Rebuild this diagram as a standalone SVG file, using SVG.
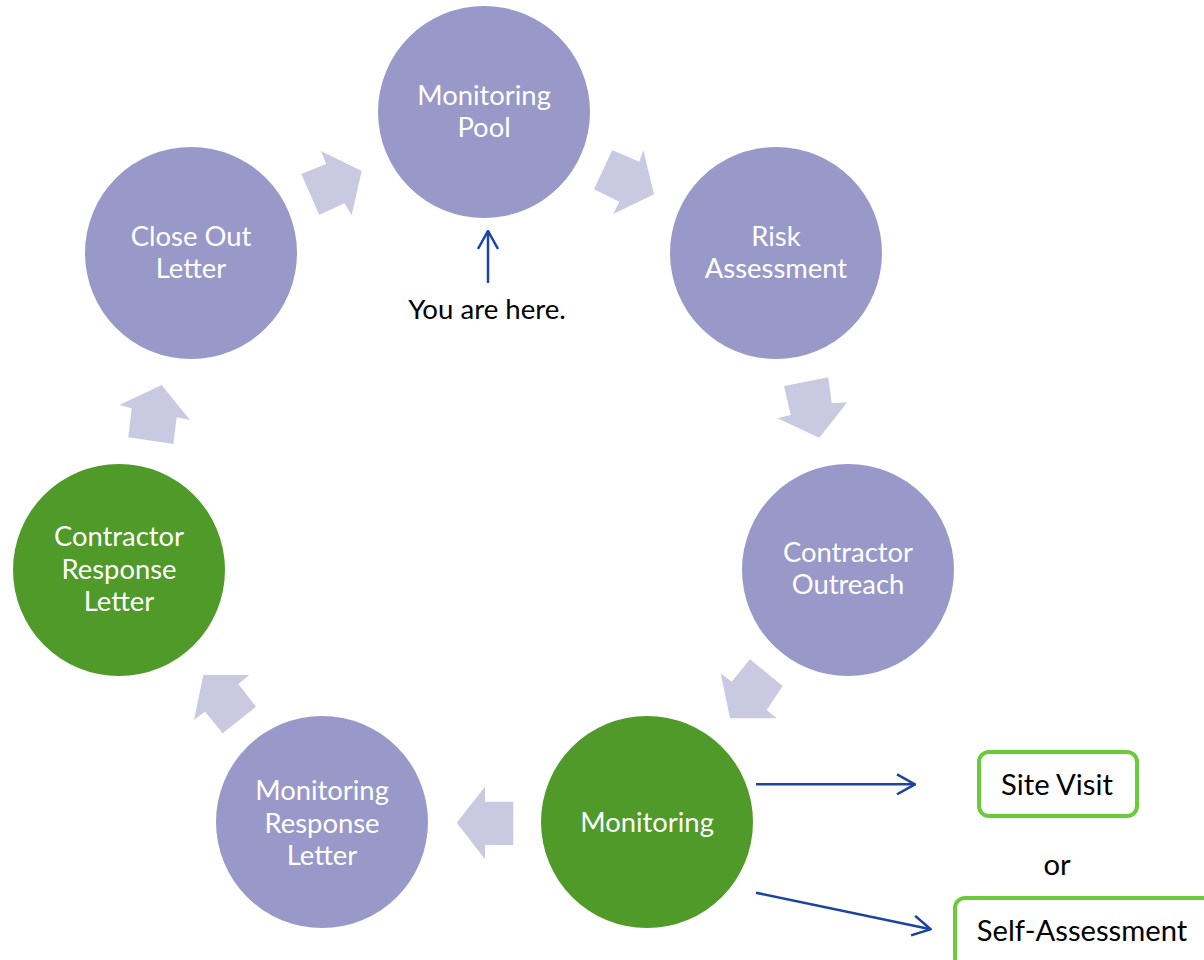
<svg xmlns="http://www.w3.org/2000/svg" width="1204" height="960" viewBox="0 0 1204 960">
<defs>
<style>
.c{fill:#9999c9}
.g{fill:#4f9a29}
.ba{fill:#c9cae2}
.t{font-family:Lato,"Open Sans",sans-serif;font-size:27.4px;fill:#ffffff;text-anchor:middle}
.k{font-family:Lato,"Open Sans",sans-serif;font-size:29.2px;fill:#000000;text-anchor:middle}
.ln{stroke:#1a44a0;stroke-width:2.5;fill:none}
.box{fill:#ffffff;stroke:#6acb3a;stroke-width:4}
</style>
<marker id="ah" viewBox="0 0 20 22" refX="19" refY="11" markerWidth="20" markerHeight="22" markerUnits="userSpaceOnUse" orient="auto">
<path d="M1,1 L19,11 L1,21" fill="none" stroke="#1a44a0" stroke-width="2.5"/>
</marker>
</defs>
<rect width="1204" height="960" fill="#ffffff"/>
<g id="connectors">
<polygon class="ba" points="301.3,174 326,164 321,151 361.7,171 351.7,215 344.3,203.3 319.3,215"/>
<polygon class="ba" points="612.3,150 639.3,161.7 643.3,150 654,194.3 613.3,214 619.3,201.7 594,189.3"/>
<polygon class="ba" points="784,386 828.3,377.3 831.7,403.3 847.3,402.3 819.3,437.7 777.3,418.3 790.7,415"/>
<polygon class="ba" points="750,659.3 782.7,686 766.7,710 776.7,718.3 730,718.3 720.7,673.3 731.7,681.7"/>
<polygon class="ba" points="513.3,801.7 485,801.7 485,786.7 456.7,822.7 485,859.3 485,845 513.3,845"/>
<polygon class="ba" points="203.3,675 249.3,675 238.3,684 256,706.7 222.7,733.3 205,711.7 194,720"/>
<polygon class="ba" points="161.7,385 190,420 176.7,417.3 173.3,444 128.3,437.3 131.7,408.3 119.3,405"/>
<line class="ln" x1="488" y1="283" x2="488" y2="231" marker-end="url(#ah)"/>
<line class="ln" x1="756" y1="784.3" x2="915" y2="784.3" marker-end="url(#ah)"/>
<line class="ln" x1="756" y1="892.7" x2="930.7" y2="929.3" marker-end="url(#ah)"/>
</g>
<g id="monitoring-pool">
<circle class="c" cx="484" cy="112" r="106"/>
<text class="t" x="484" y="105">Monitoring</text>
<text class="t" x="484" y="137">Pool</text>
</g>
<g id="risk-assessment">
<circle class="c" cx="776" cy="253" r="106"/>
<text class="t" x="776" y="246">Risk</text>
<text class="t" x="776" y="278">Assessment</text>
</g>
<g id="contractor-outreach">
<circle class="c" cx="848" cy="570" r="106"/>
<text class="t" x="848" y="562">Contractor</text>
<text class="t" x="848" y="594">Outreach</text>
</g>
<g id="monitoring">
<circle class="g" cx="647" cy="822" r="106"/>
<text class="t" x="647" y="832">Monitoring</text>
</g>
<g id="monitoring-response-letter">
<circle class="c" cx="322" cy="822" r="106"/>
<text class="t" x="322" y="800">Monitoring</text>
<text class="t" x="322" y="833">Response</text>
<text class="t" x="322" y="865">Letter</text>
</g>
<g id="contractor-response-letter">
<circle class="g" cx="119" cy="570" r="106"/>
<text class="t" x="119" y="546">Contractor</text>
<text class="t" x="119" y="579">Response</text>
<text class="t" x="119" y="611">Letter</text>
</g>
<g id="close-out-letter">
<circle class="c" cx="191" cy="253" r="106"/>
<text class="t" x="191" y="246">Close Out</text>
<text class="t" x="191" y="278">Letter</text>
</g>
<g id="you-are-here">
<text class="k" x="487" y="319" style="font-size:27.6px">You are here.</text>
</g>
<g id="site-visit">
<rect class="box" x="979" y="752" width="158" height="64" rx="10"/>
<text class="k" x="1057" y="795">Site Visit</text>
</g>
<g id="or-label">
<text class="k" x="1057" y="875">or</text>
</g>
<g id="self-assessment">
<rect class="box" x="955" y="898" width="262" height="70" rx="10"/>
<text class="k" x="1082" y="941">Self-Assessment</text>
</g>
</svg>
